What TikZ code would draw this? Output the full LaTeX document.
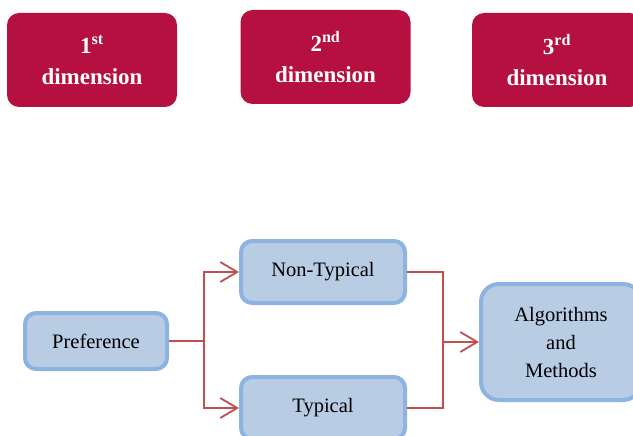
\documentclass[tikz,border=0pt]{standalone}
\usepackage{fontspec}
\setmainfont{Liberation Serif}
\usetikzlibrary{arrows.meta}
\definecolor{dimred}{HTML}{B5103F}
\definecolor{boxfill}{HTML}{B8CCE4}
\definecolor{boxline}{HTML}{8DB3E2}
\definecolor{linkred}{HTML}{C0504D}

\begin{document}
\begin{tikzpicture}[x=1pt,y=-1pt,
	dimbox/.style ={rectangle, rounded corners=12pt, fill=dimred, text=white, align=center,
		font=\fontsize{23}{31}\selectfont\bfseries, minimum width=170, minimum height=94, inner sep=0pt},
	block/.style ={rectangle, rounded corners=11pt, draw=boxline, fill=boxfill, line width=4pt,
		align=center, font=\fontsize{20.5}{28}\selectfont, minimum height=62, inner sep=0pt},
	link/.style ={draw=linkred, line width=1.8pt},
	>={Straight Barb[length=17pt,width=20pt,line width=1.8pt]}]
		\clip (0,0) rectangle (633,436);
		\node[dimbox] (dim1) at (92,60) {1\textsuperscript{st}\\dimension};
		\node[dimbox] (dim2) at (325.5,57) {2\textsuperscript{nd}\\dimension};
		\node[dimbox] (dim3) at (557,60) {3\textsuperscript{rd}\\dimension};
		\node[block, minimum width=142, minimum height=56] (pref) at (96,341) {Preference};
		\node[block, minimum width=164] (nontyp) at (323,272) {Non-Typical};
		\node[block, minimum width=164] (typ) at (323,408) {Typical};
		\node[block, minimum width=160, minimum height=116, rounded corners=18pt] (alg) at (561,342) {Algorithms\\and\\Methods};
		\draw[link,->] (pref.east) -- ++(35,0) coordinate (split) |- (nontyp.west);
		\draw[link,->] (split) |- (typ.west);
		\draw[link] (nontyp.east) -- ++(36,0) coordinate (merge) |- (typ.east);
		\draw[link,->] (merge |- alg.west) -- (alg.west);
	\end{tikzpicture}
\end{document}
